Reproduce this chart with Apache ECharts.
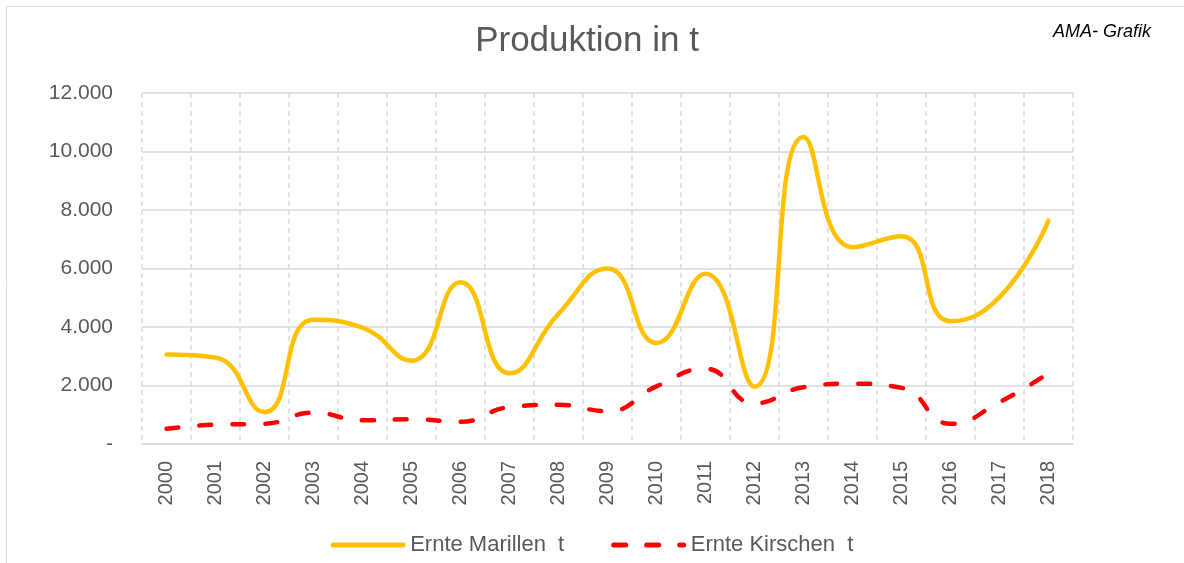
<!DOCTYPE html>
<html lang="de">
<head>
    <meta charset="UTF-8">
    <title>Produktion in t</title>
    <script src="https://cdn.jsdelivr.net/npm/echarts@6/dist/echarts.min.js"></script>
    <style>
        html, body { margin: 0; padding: 0; background: #fff; }
        #chart { width: 1184px; height: 563px; }
    </style>
</head>
<body>
<div id="chart"></div>
<script>
    // Jahre (Kategorien)
    var years = ['2000', '2001', '2002', '2003', '2004', '2005', '2006', '2007', '2008', '2009',
        '2010', '2011', '2012', '2013', '2014', '2015', '2016', '2017', '2018'];

    // Ernte Marillen in t
    var marillen = [3060, 2960, 1090, 4250, 3980, 2850, 5530, 2420, 4450, 6000,
        3450, 5820, 1960, 10500, 6730, 7100, 4200, 5020, 7640];

    // Ernte Kirschen in t
    var kirschen = [520, 660, 690, 1070, 810, 850, 760, 1260, 1340, 1120,
        1970, 2570, 1390, 1940, 2060, 1920, 690, 1430, 2420];

    var textColor = '#595959';
    var gridColor = '#d9d9d9';
    var font = 'Liberation Sans, Arial, sans-serif';

    var chart = echarts.init(document.getElementById('chart'));

    var options = {
        animation: false,
        textStyle: { fontFamily: font, color: textColor },
        title: [
            {
                text: 'Produktion in t',
                left: 582,
                top: 19,
                textAlign: 'center',
                textStyle: { fontSize: 35, fontWeight: 'normal', color: textColor, fontFamily: font }
            },
            {
                text: 'AMA- Grafik',
                right: 28,
                top: 18,
                textStyle: { fontSize: 18, fontWeight: 'normal', fontStyle: 'italic', color: '#000', fontFamily: font }
            }
        ],
        graphic: [{
            type: 'rect',
            left: 4, top: 4,
            shape: { width: 1300, height: 700 },
            style: { fill: 'none', stroke: gridColor, lineWidth: 1 },
            silent: true
        }],
        legend: {
            top: 529,
            left: 'center',
            itemWidth: 70,
            itemHeight: 14,
            itemGap: 47,
            lineStyle: { width: 5 },
            itemStyle: { opacity: 0, borderWidth: 0 },
            textStyle: { fontSize: 22, color: textColor, fontFamily: font, padding: [0, 0, 0, 2] },
            data: ['Ernte Marillen  t', 'Ernte Kirschen  t']
        },
        grid: {
            left: 142,
            right: 111,
            top: 93,
            bottom: 119,
            containLabel: false
        },
        xAxis: {
            type: 'category',
            data: years,
            boundaryGap: true,
            axisLine: { lineStyle: { color: gridColor, width: 1.5 } },
            axisTick: { show: false },
            axisLabel: {
                rotate: 90,
                fontSize: 20,
                color: textColor,
                margin: 17,
                fontFamily: font
            },
            splitLine: {
                show: true,
                lineStyle: { color: gridColor, type: [5, 4], width: 1.5 }
            }
        },
        yAxis: {
            type: 'value',
            min: 0,
            max: 12000,
            interval: 2000,
            axisLine: { show: false },
            axisTick: { show: false },
            axisLabel: {
                fontSize: 21,
                color: textColor,
                margin: 29,
                fontFamily: font,
                formatter: function (v) {
                    if (v === 0) return '-';
                    return String(v).replace(/\B(?=(\d{3})+(?!\d))/g, '.');
                }
            },
            splitLine: { lineStyle: { color: gridColor, width: 1.5 } }
        },
        series: [
            {
                name: 'Ernte Marillen  t',
                type: 'line',
                data: marillen,
                smooth: 0.5,
                symbol: 'none',
                lineStyle: { color: '#ffc000', width: 4.5, cap: 'round' },
                itemStyle: { color: '#ffc000' }
            },
            {
                name: 'Ernte Kirschen  t',
                type: 'line',
                data: kirschen,
                smooth: 0.5,
                symbol: 'none',
                lineStyle: { color: '#ff0000', width: 4.5, type: [12, 21], cap: 'round' },
                itemStyle: { color: '#ff0000' }
            }
        ]
    };

    chart.setOption(options);
</script>
</body>
</html>
